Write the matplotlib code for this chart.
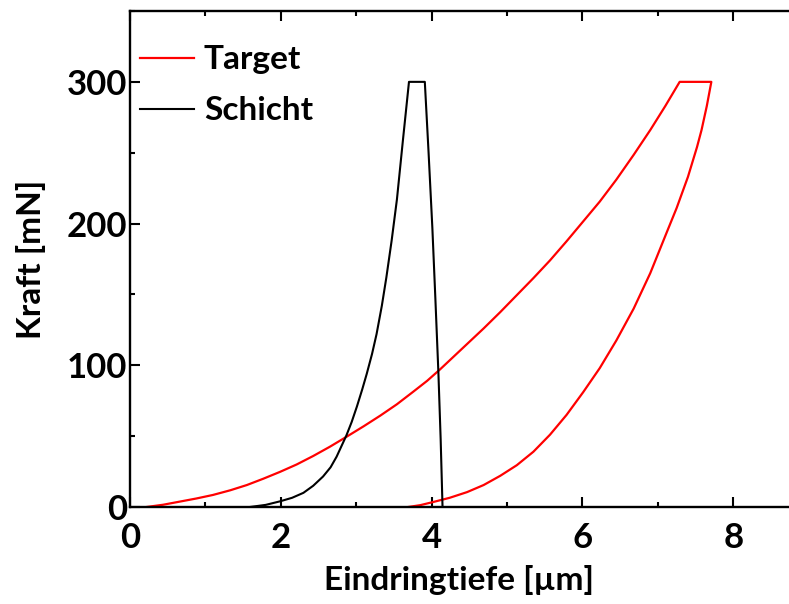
import matplotlib
matplotlib.use("Agg")
import matplotlib.pyplot as plt
from matplotlib.ticker import MultipleLocator

# Target (red): loading, hold, unloading  (depth in µm, force in mN)
target_h = [0.22, 0.44, 0.66, 0.88, 1.10, 1.33, 1.55, 1.77, 1.99, 2.21, 2.43, 2.65,
            2.87, 3.10, 3.32, 3.54, 3.76, 3.94, 4.11, 4.24, 4.38, 4.69, 4.91, 5.13,
            5.35, 5.57, 5.79, 6.01, 6.23, 6.45, 6.68, 6.90, 7.10, 7.29, 7.71,
            7.65, 7.58, 7.52, 7.40, 7.25, 7.12, 6.90, 6.68, 6.45, 6.23, 6.01, 5.79, 5.57,
            5.35, 5.13, 4.91, 4.69, 4.47, 4.24, 4.02, 3.85, 3.69]
target_F = [0, 1.6, 3.8, 6, 8.5, 11.8, 15.5, 20, 24.8, 30, 36, 42.5,
            49.5, 57, 64.5, 72.5, 81.5, 89, 97, 103.5, 110.5, 126, 137.5, 149.5,
            161.5, 174, 187.5, 201.5, 215.5, 231, 248.5, 266, 283, 300, 300,
            283, 266, 254, 233, 211, 194, 165, 140, 117.5, 98, 81, 65, 51,
            39, 29.5, 22, 15.5, 10.5, 6.5, 3.5, 1.3, 0]

# Schicht (black)
schicht_h = [1.59, 1.80, 1.99, 2.15, 2.30, 2.43, 2.56, 2.66, 2.74, 2.87, 2.94, 3.01,
             3.08, 3.14, 3.21, 3.27, 3.34, 3.40, 3.47, 3.54, 3.62, 3.70,
             3.91, 3.96, 4.01, 4.05, 4.09, 4.12, 4.145]
schicht_F = [0, 1.5, 4, 6.5, 10, 15, 21.5, 28, 35.5, 50.5, 60, 71,
             83, 94, 108, 122, 142, 162, 188, 217, 259, 300,
             300, 250, 197, 147, 95, 48, 0]

x_ticks = [0, 2, 4, 6, 8]
y_ticks = [0, 100, 200, 300]

fig = plt.figure(figsize=(7.89, 6.04), dpi=100)
ax = fig.add_axes([130/789, 97/604, 659/789, 496/604])

ax.plot(target_h, target_F, color="#ff0000", lw=1.6, label="Target")
ax.plot(schicht_h, schicht_F, color="black", lw=1.5, label="Schicht")

ax.set_xlim(0, 8.74)
ax.set_ylim(0, 350)
ax.set_xticks(x_ticks)
ax.set_yticks(y_ticks)
ax.xaxis.set_minor_locator(MultipleLocator(1))
ax.yaxis.set_minor_locator(MultipleLocator(50))

tickfont = dict(family="Lato", weight="bold", size=25)
ax.set_xticklabels([str(v) for v in x_ticks], **tickfont)
ax.set_yticklabels([str(v) for v in y_ticks], **tickfont)

ax.tick_params(which="major", direction="in", length=7, width=1.5, top=True, right=False)
ax.tick_params(which="minor", direction="in", length=3.5, width=1.5, top=True, right=False)
ax.tick_params(axis="x", which="major", pad=11)
ax.tick_params(axis="y", which="major", pad=1.8)
for s in ["left", "bottom", "top"]:
    ax.spines[s].set_linewidth(1.7)
ax.spines["right"].set_visible(False)

labfont = dict(family="Lato", weight="bold", size=24)
ax.set_xlabel("Eindringtiefe [µm]", **labfont)
ax.set_ylabel("Kraft [mN]", **labfont)
ax.xaxis.set_label_coords(0.5, -0.116)
ax.yaxis.set_label_coords(-0.128, 0.5)

leg = ax.legend(loc="upper left", bbox_to_anchor=(10/659, 0.931), frameon=False,
                prop=dict(family="Lato", weight="bold", size=24),
                handlelength=1.62, handletextpad=0.3, labelspacing=0.66,
                borderpad=0, borderaxespad=0)

fig.savefig("out.png", dpi=100)
